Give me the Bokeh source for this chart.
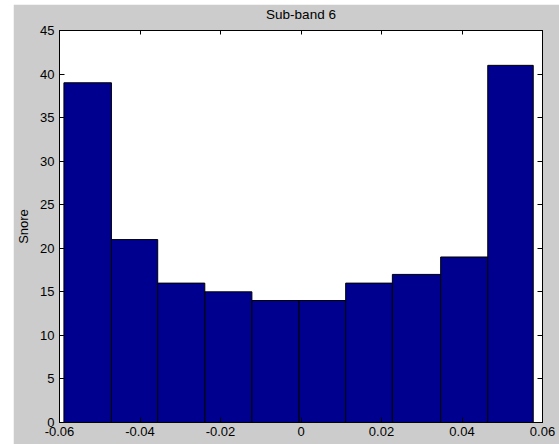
from bokeh.plotting import figure
from bokeh.models import LinearAxis, FixedTicker, Range1d, ColumnDataSource
from bokeh.embed import file_html
from bokeh.resources import INLINE

# Histogram bins (left/right edges) and counts
bin_left = [-0.0589, -0.0471, -0.0356, -0.0239, -0.0122, -0.0005, 0.0111, 0.0227, 0.0347, 0.0464]
bin_right = [-0.0471, -0.0356, -0.0239, -0.0122, -0.0005, 0.0111, 0.0227, 0.0347, 0.0464, 0.0577]
counts = [39, 21, 16, 15, 14, 14, 16, 17, 19, 41]

x_ticks = [-0.06, -0.04, -0.02, 0.0, 0.02, 0.04, 0.06]
x_tick_labels = ["-0.06", "-0.04", "-0.02", "0", "0.02", "0.04", "0.06"]
y_ticks = [0, 5, 10, 15, 20, 25, 30, 35, 40, 45]
y_tick_labels = ["0", "5", "10", "15", "20", "25", "30", "35", "40", "45"]

FONT = "Liberation Sans"
FS = "13px"

src = ColumnDataSource(dict(left=bin_left, right=bin_right, top=counts,
                            bottom=[0] * len(counts)))

p = figure(width=546, height=440, output_backend="svg", toolbar_location=None,
           x_range=Range1d(-0.06, 0.06), y_range=Range1d(0, 45),
           x_axis_location=None, y_axis_location=None,
           min_border_left=46, min_border_right=17, min_border_top=0,
           min_border_bottom=22)
p.margin = (4, 0, 0, 13)
p.border_fill_color = "#cccccc"
p.background_fill_color = "white"
p.outline_line_color = "black"
p.xgrid.visible = False
p.ygrid.visible = False

p.quad(left="left", right="right", top="top", bottom="bottom", source=src,
       fill_color="#00008f", line_color="black", line_width=1)


def make_axis(ticks, labels, show_labels):
    ax = LinearAxis(ticker=FixedTicker(ticks=ticks))
    ax.major_label_overrides = {t: l for t, l in zip(ticks, labels)}
    ax.major_tick_in = 5
    ax.major_tick_out = 0
    ax.minor_tick_line_color = None
    ax.axis_line_color = "black"
    ax.major_tick_line_color = "black"
    ax.major_label_text_font = FONT
    ax.major_label_text_color = "black"
    ax.major_label_text_font_size = FS
    if not show_labels:
        # tick marks only, no label text
        ax.major_label_text_color = None
        ax.major_label_text_font_size = "0px"
        ax.major_label_standoff = 0
    return ax


xb = make_axis(x_ticks, x_tick_labels, True)
xb.major_label_standoff = 4
yl = make_axis(y_ticks, y_tick_labels, True)
yl.major_label_standoff = 5
yl.axis_label = "Snore"
yl.axis_label_text_font = FONT
yl.axis_label_text_font_size = FS
yl.axis_label_text_font_style = "normal"
yl.axis_label_text_color = "black"
yl.axis_label_standoff = 6
xt = make_axis(x_ticks, x_tick_labels, False)
xt.major_tick_in = 4
yr = make_axis(y_ticks, y_tick_labels, False)

# blank band between the frame and the title
gap = LinearAxis(ticker=FixedTicker(ticks=x_ticks))
gap.axis_line_color = None
gap.major_tick_line_color = None
gap.minor_tick_line_color = None
gap.major_tick_in = 0
gap.major_tick_out = 9
gap.major_label_text_color = None
gap.major_label_text_font_size = "0px"
gap.major_label_standoff = 0

p.add_layout(xb, "below")
p.add_layout(yl, "left")
p.add_layout(xt, "above")
p.add_layout(gap, "above")
p.add_layout(yr, "right")

p.title.text = "Sub-band 6"
p.title.align = "center"
p.title.standoff = 0
p.title.text_font = FONT
p.title.text_font_size = "13.5px"
p.title.text_font_style = "normal"
p.title.text_color = "black"

open("out.html", "w").write(file_html(p, INLINE))
